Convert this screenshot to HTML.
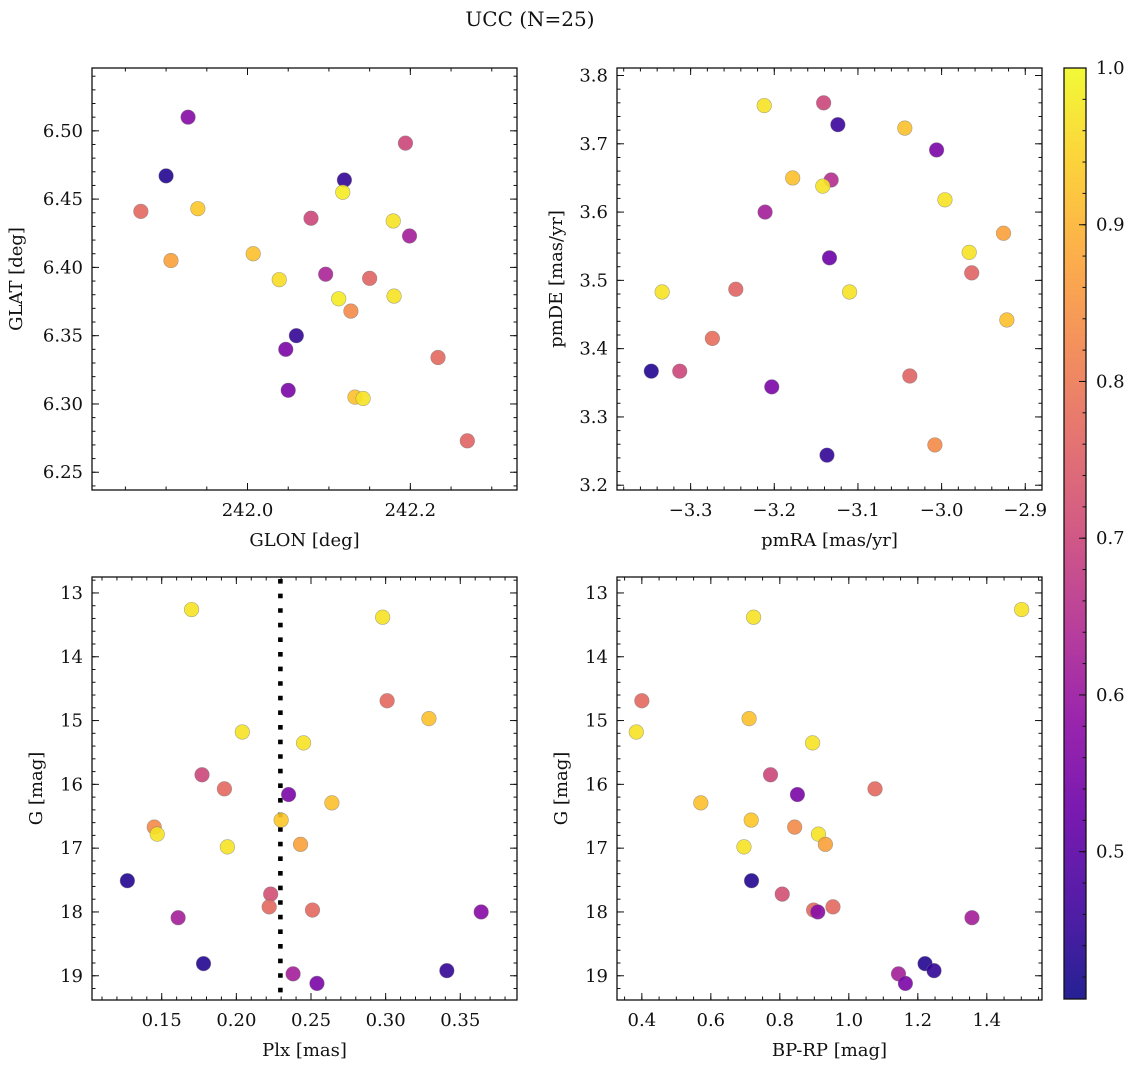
<!DOCTYPE html>
<html><head><meta charset="utf-8"><style>
body{margin:0;background:#fff;}
svg text{font-family:"DejaVu Serif","Liberation Serif",serif;fill:#111;}
</style></head><body>
<svg id="fig" width="1136" height="1067" viewBox="0 0 1136 1067" xmlns="http://www.w3.org/2000/svg">
<defs><linearGradient id="plasma" x1="0" y1="1" x2="0" y2="0"></linearGradient></defs>
<text x="530" y="26" font-size="20" text-anchor="middle">UCC (N=25)</text>
</svg>
<script>
// ---- data ----
const glon=[241.927,241.900,241.869,241.939,241.906,242.007,242.039,242.060,242.047,242.050,242.078,242.096,242.119,242.117,242.112,242.127,242.132,242.142,242.150,242.179,242.180,242.194,242.199,242.234,242.270];
const glat=[6.510,6.467,6.441,6.443,6.405,6.410,6.391,6.350,6.340,6.310,6.436,6.395,6.464,6.455,6.377,6.368,6.305,6.304,6.392,6.434,6.379,6.491,6.423,6.334,6.273];
const probTL=[0.57,0.43,0.77,0.93,0.87,0.92,0.96,0.45,0.55,0.55,0.70,0.63,0.45,0.98,0.98,0.83,0.92,0.97,0.76,0.97,0.97,0.70,0.62,0.77,0.76];
const pmra=[-3.212,-3.141,-3.124,-3.044,-3.006,-3.178,-3.132,-3.142,-2.996,-3.211,-2.926,-2.967,-3.134,-2.964,-3.246,-3.334,-3.110,-3.274,-2.922,-3.347,-3.313,-3.038,-3.203,-3.008,-3.137];
const pmde=[3.756,3.760,3.728,3.723,3.691,3.650,3.647,3.638,3.618,3.600,3.569,3.541,3.533,3.511,3.487,3.483,3.483,3.415,3.442,3.367,3.367,3.360,3.344,3.259,3.244];
const probTR=[0.97,0.70,0.46,0.92,0.55,0.92,0.65,0.97,0.97,0.62,0.87,0.97,0.53,0.76,0.76,0.97,0.97,0.78,0.92,0.43,0.70,0.76,0.55,0.83,0.45];
const plx=[0.170,0.298,0.301,0.329,0.204,0.245,0.177,0.192,0.235,0.264,0.230,0.145,0.147,0.243,0.194,0.127,0.223,0.222,0.251,0.364,0.161,0.178,0.238,0.341,0.254];
const gmag=[13.26,13.38,14.69,14.97,15.18,15.35,15.85,16.07,16.16,16.29,16.56,16.67,16.78,16.94,16.98,17.51,17.72,17.92,17.97,18.00,18.09,18.81,18.97,18.92,19.12];
const bprp=[1.501,0.724,0.400,0.711,0.384,0.895,0.773,1.076,0.851,0.571,0.717,0.843,0.912,0.932,0.696,0.718,0.807,0.954,0.898,0.910,1.357,1.221,1.144,1.247,1.164];
const probB=[0.97,0.97,0.77,0.92,0.97,0.97,0.70,0.77,0.55,0.92,0.93,0.83,0.97,0.87,0.97,0.43,0.72,0.77,0.77,0.57,0.62,0.43,0.62,0.45,0.55];
const plxCut=[0.2295];
const cbTicks=[0.5,0.6,0.7,0.8,0.9,1.0];
const vmin=0.406, vmax=1.0;

const NS='http://www.w3.org/2000/svg';
const svg=document.getElementById('fig');
function mk(tag,attrs,parent){const e=document.createElementNS(NS,tag);for(const k in attrs)e.setAttribute(k,attrs[k]);(parent||svg).appendChild(e);return e;}
const stops=[[0,'#0d0887'],[0.1,'#41049d'],[0.2,'#6a00a8'],[0.3,'#8f0da4'],[0.4,'#b12a90'],[0.5,'#cc4778'],[0.6,'#e16462'],[0.7,'#f2844b'],[0.8,'#fca636'],[0.9,'#fcce25'],[1,'#f0f921']];
function hex(h){return [1,3,5].map(i=>parseInt(h.substr(i,2),16));}
function plasma(t){t=Math.max(0,Math.min(1,t));for(let i=1;i<stops.length;i++){if(t<=stops[i][0]){const a=stops[i-1],b=stops[i];const f=(t-a[0])/(b[0]-a[0]);const ca=hex(a[1]),cb=hex(b[1]);return 'rgb('+ca.map((v,j)=>Math.round(v+(cb[j]-v)*f)).join(',')+')';}}return stops[10][1];}
function col(p){return plasma((p-vmin)/(vmax-vmin));}
const grad=document.getElementById('plasma');
stops.forEach(s=>{mk('stop',{offset:s[0],'stop-color':s[1],'stop-opacity':0.9},grad);});

function fmt(v,d){let s=v.toFixed(d);if(v<0)s='\u2212'+s.slice(1);return s;}
function panel(name,box,xr,yr,xt,yt,xminor,yminor,xd,yd,xlab,ylab,ylabX,invY){
  const [x0,y0,x1,y1]=box;
  const sx=v=>x0+(v-xr[0])/(xr[1]-xr[0])*(x1-x0);
  const sy=invY?(v=>y0+(v-yr[0])/(yr[1]-yr[0])*(y1-y0)):(v=>y1-(v-yr[0])/(yr[1]-yr[0])*(y1-y0));
  const g=mk('g',{});
  
  
  const tg=mk('g',{stroke:'#111','stroke-width':1},g);
  function ticksX(step,len){const s=Math.ceil(Math.min(xr[0],xr[1])/step-1e-6);for(let k=s;k*step<=Math.max(xr[0],xr[1])+1e-9;k++){const X=sx(k*step);mk('line',{x1:X,x2:X,y1:y1,y2:y1-len},tg);mk('line',{x1:X,x2:X,y1:y0,y2:y0+len},tg);}}
  function ticksY(step,len){const lo=Math.min(yr[0],yr[1]),hi=Math.max(yr[0],yr[1]);for(let k=Math.ceil(lo/step-1e-6);k*step<=hi+1e-9;k++){const Y=sy(k*step);mk('line',{x1:x0,x2:x0+len,y1:Y,y2:Y},tg);mk('line',{x1:x1,x2:x1-len,y1:Y,y2:Y},tg);}}
  ticksX(xminor,3.5);ticksY(yminor,3.5);
  xt.forEach(v=>{const X=sx(v);mk('line',{x1:X,x2:X,y1:y1,y2:y1-7},tg);mk('line',{x1:X,x2:X,y1:y0,y2:y0+7},tg);
    const t=mk('text',{x:X,y:y1+26,'font-size':18,'text-anchor':'middle'},g);t.textContent=fmt(v,xd);
    
    });
  yt.forEach(v=>{const Y=sy(v);mk('line',{x1:x0,x2:x0+7,y1:Y,y2:Y},tg);mk('line',{x1:x1,x2:x1-7,y1:Y,y2:Y},tg);
    const t=mk('text',{x:x0-9,y:Y+6,'font-size':18,'text-anchor':'end'},g);t.textContent=fmt(v,yd);
    
    });
  const xl=mk('text',{x:(x0+x1)/2,y:y1+56,'font-size':18,'text-anchor':'middle'},g);xl.textContent=xlab;
  
  
  const yl=mk('text',{x:ylabX,y:(y0+y1)/2,'font-size':18,'text-anchor':'middle',transform:'rotate(-90 '+ylabX+' '+(y0+y1)/2+')'},g);yl.textContent=ylab;
  
  
  const fr=mk('rect',{x:x0,y:y0,width:x1-x0,height:y1-y0,fill:'none',stroke:'#111','stroke-width':1.3},g);
  
  
  return {g,sx,sy};
}
function scatter(P,xs,ys,ps){
  xs.forEach((_,i)=>{const c=mk('circle',{cx:P.sx(xs[i]),cy:P.sy(ys[i]),r:7.3,fill:col(ps[i]),'fill-opacity':0.9,stroke:'#777','stroke-opacity':0.6,'stroke-width':0.6},P.g);
    
    });
}
function rng(a,b,s){const r=[];for(let v=a;v<=b+1e-9;v+=s)r.push(Math.round(v*1000)/1000);return r;}

const TL=panel('panel-glon-glat',[92,68,517,490],[241.809,242.331],[6.237,6.546],[242.0,242.2],rng(6.25,6.50,0.05),0.05,0.01,1,2,'GLON [deg]','GLAT [deg]',22,false);
scatter(TL,glon,glat,probTL);
const TR=panel('panel-pm',[617,68,1042,490],[-3.388,-2.880],[3.193,3.811],rng(-3.3,-2.9,0.1),rng(3.2,3.8,0.1),0.02,0.02,1,1,'pmRA [mas/yr]','pmDE [mas/yr]',562,false);
scatter(TR,pmra,pmde,probTR);
const BL=panel('panel-plx-g',[92,577,517,1000],[0.1033,0.388],[12.75,19.38],rng(0.15,0.35,0.05),rng(13,19,1),0.01,0.2,2,0,'Plx [mas]','G [mag]',42,true);
plxCut.forEach(v=>{const l=mk('line',{x1:BL.sx(v),x2:BL.sx(v),y1:579,y2:1000,stroke:'#000','stroke-width':4.6,'stroke-dasharray':'4.6 10'},BL.g);
  
  });
scatter(BL,plx,gmag,probB);
const BR=panel('panel-cmd',[617,577,1042,1000],[0.328,1.560],[12.75,19.38],rng(0.4,1.4,0.2),rng(13,19,1),0.05,0.2,1,0,'BP-RP [mag]','G [mag]',567,true);
scatter(BR,bprp,gmag,probB);

// colorbar
const cb=mk('g',{});


const cx0=1064,cx1=1086,cy0=68,cy1=999;
mk('rect',{x:cx0,y:cy0,width:cx1-cx0,height:cy1-cy0,fill:'url(#plasma)',stroke:'#111','stroke-width':1.3},cb);
const cs=v=>cy1-(v-vmin)/(vmax-vmin)*(cy1-cy0);
for(let v=0.42;v<=1.0001;v+=0.02){const Y=cs(v);mk('line',{x1:cx1,x2:cx1-3.5,y1:Y,y2:Y,stroke:'#111'},cb);}
cbTicks.forEach(v=>{const Y=cs(v);mk('line',{x1:cx1,x2:cx1-7,y1:Y,y2:Y,stroke:'#111'},cb);
  const t=mk('text',{x:cx1+10,y:Y+6,'font-size':18},cb);t.textContent=v.toFixed(1);
  
  });
</script>
</body></html>
